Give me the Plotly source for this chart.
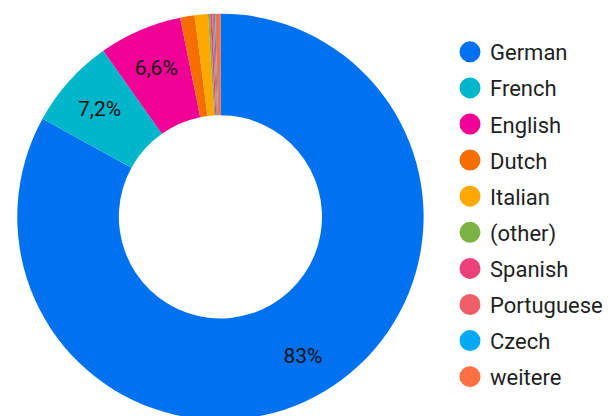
import plotly.graph_objects as go

languages = ["German", "French", "English", "Dutch", "Italian", "(other)",
             "Spanish", "Portuguese", "Czech", "weitere"]
shares = [83.0, 7.2, 6.6, 1.15, 1.05, 0.17, 0.16, 0.13, 0.11, 0.41]
colors = ["#0072f0", "#00b6cb", "#f10096", "#f66d00", "#ffa800", "#7cb342",
          "#ec407a", "#ef5f67", "#03a9f4", "#ff7043"]

total = sum(shares)
texts = []
for v in shares:
    p = v / total * 100
    texts.append(f"{p:.2g}".replace(".", ",") + "%" if p >= 5 else "")

# figure is slightly taller than the 416px window: the ring is cut at the bottom
W, H = 608, 425
cx, cy, R = 220.8, 216.8, 203.5   # centre (from top-left) and outer radius in px
dom_x = [(cx - R) / W, (cx + R) / W]
dom_y = [(H - cy - R) / H, (H - cy + R) / H]
r2 = R * 0.95
dom_x2 = [(cx - r2) / W, (cx + r2) / W]
dom_y2 = [(H - cy - r2) / H, (H - cy + r2) / H]

fig = go.Figure()
# coloured ring
fig.add_trace(go.Pie(
    labels=languages, values=shares, hole=0.5, sort=False,
    direction="clockwise", rotation=0,
    marker=dict(colors=colors, line=dict(width=0)),
    textinfo="none", showlegend=False, hoverinfo="label+percent",
    domain=dict(x=dom_x, y=dom_y),
))
# transparent ring carrying the percentage labels
fig.add_trace(go.Pie(
    labels=languages, values=shares, hole=0.68, sort=False,
    direction="clockwise", rotation=0,
    marker=dict(colors=["rgba(0,0,0,0)"] * len(shares), line=dict(width=0)),
    text=texts, textinfo="text", textposition="inside",
    insidetextfont=dict(color="#111111", size=21, family="Roboto"),
    insidetextorientation="horizontal",
    showlegend=False, hoverinfo="skip",
    domain=dict(x=dom_x2, y=dom_y2),
))
for i, (lab, col) in enumerate(zip(languages, colors)):
    fig.add_trace(go.Scatter(
        x=[None], y=[None], mode="markers", name=lab,
        marker=dict(color=col, size=16, symbol="circle",
                    line=dict(color=col, width=5)),
        legendgroup=f"g{i}", showlegend=True,
    ))

fig.update_layout(
    width=W, height=H,
    margin=dict(l=0, r=0, t=0, b=0),
    paper_bgcolor="white", plot_bgcolor="white",
    font=dict(family="Roboto", size=22, color="#1f1f1f"),
    xaxis=dict(visible=False), yaxis=dict(visible=False),
    legend=dict(x=450.5 / W, y=(H - 31) / H, xanchor="left", yanchor="top",
                font=dict(size=22, family="Roboto", color="#1f1f1f"),
                tracegroupgap=4.5, itemwidth=30, bgcolor="rgba(0,0,0,0)"),
)
fig.write_html(
    "out.html",
    config={"displayModeBar": False},
    post_script=("document.documentElement.style.overflow='hidden';"
                 "document.body.style.overflow='hidden';"
                 "document.body.style.margin='0';"),
)
